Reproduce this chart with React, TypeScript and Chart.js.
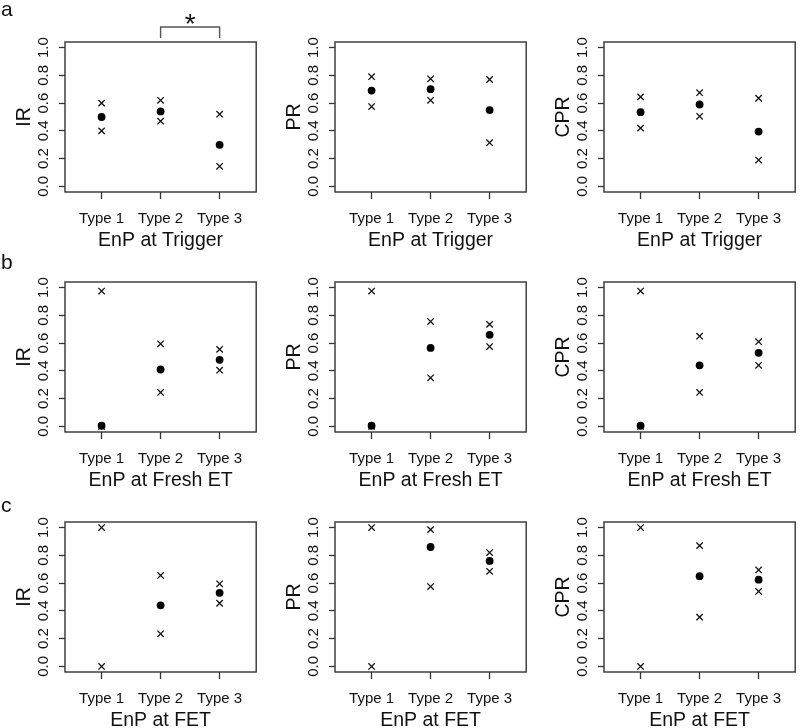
import React, { useEffect, useRef } from "react";
import { Chart, registerables } from "chart.js";

Chart.register(...registerables);

// ---------------- data ----------------
const categories = ["Type 1", "Type 2", "Type 3"];
const yTickValues = [0, 0.2, 0.4, 0.6, 0.8, 1.0];
const metrics = ["IR", "PR", "CPR"];
const timepoints = ["EnP at Trigger", "EnP at Fresh ET", "EnP at FET"];
const panelLetters = ["a", "b", "c"];

// EnP at Trigger
const triggerIRMean = [0.5, 0.54, 0.3];
const triggerIRLow = [0.4, 0.47, 0.145];
const triggerIRHigh = [0.6, 0.62, 0.52];
const triggerPRMean = [0.69, 0.7, 0.55];
const triggerPRLow = [0.575, 0.62, 0.315];
const triggerPRHigh = [0.79, 0.775, 0.77];
const triggerCPRMean = [0.535, 0.59, 0.395];
const triggerCPRLow = [0.42, 0.505, 0.19];
const triggerCPRHigh = [0.645, 0.675, 0.635];

// EnP at Fresh ET
const freshIRMean = [0.005, 0.41, 0.48];
const freshIRLow = [0, 0.245, 0.405];
const freshIRHigh = [0.975, 0.595, 0.555];
const freshPRMean = [0.005, 0.565, 0.66];
const freshPRLow = [0, 0.35, 0.575];
const freshPRHigh = [0.975, 0.755, 0.735];
const freshCPRMean = [0.005, 0.44, 0.53];
const freshCPRLow = [0, 0.245, 0.44];
const freshCPRHigh = [0.975, 0.65, 0.61];

// EnP at FET
const fetIRMean = [null, 0.44, 0.53];
const fetIRLow = [0, 0.235, 0.455];
const fetIRHigh = [1.0, 0.655, 0.595];
const fetPRMean = [null, 0.86, 0.76];
const fetPRLow = [0, 0.575, 0.685];
const fetPRHigh = [1.0, 0.985, 0.82];
const fetCPRMean = [null, 0.65, 0.625];
const fetCPRLow = [0, 0.355, 0.54];
const fetCPRHigh = [1.0, 0.87, 0.695];

// significance annotation: row, column, from category, to category, label
const significance = [{ row: 0, col: 0, from: "Type 2", to: "Type 3", label: "*" }];

const MEANS = [
  [triggerIRMean, triggerPRMean, triggerCPRMean],
  [freshIRMean, freshPRMean, freshCPRMean],
  [fetIRMean, fetPRMean, fetCPRMean],
];
const LOWS = [
  [triggerIRLow, triggerPRLow, triggerCPRLow],
  [freshIRLow, freshPRLow, freshCPRLow],
  [fetIRLow, fetPRLow, fetCPRLow],
];
const HIGHS = [
  [triggerIRHigh, triggerPRHigh, triggerCPRHigh],
  [freshIRHigh, freshPRHigh, freshCPRHigh],
  [fetIRHigh, fetPRHigh, fetCPRHigh],
];

// ---------------- layout / style ----------------
const FONT = '"Liberation Sans", Arial, Helvetica, sans-serif';
const TEXT = "#111";
const FRAME = "#333";
const COL_PLOT_LEFT = [65, 335, 604];
const ROW_TOP = [0, 240, 480];
const LETTER_BASELINE = [16, 29, 32];
const Y_AXIS_W = 65;
const PLOT_TOP = 42;
const PLOT_W = 195;
const PLOT_H = 150;
const CANVAS_W = 262;
const CANVAS_H = 252;
const X_AXIS_H = CANVAS_H - PLOT_TOP - PLOT_H;

Chart.defaults.font.family = FONT;
Chart.defaults.color = TEXT;

function Panel({ row, col }: { row: number; col: number }) {
  const ref = useRef<HTMLCanvasElement>(null);

  useEffect(() => {
    const canvas = ref.current;
    if (!canvas) return;
    const toPts = (arr: (number | null)[]) => arr.map((v, i) => ({ x: i + 1, y: v }));
    const sigs = significance.filter((s) => s.row === row && s.col === col);
    const letter = col === 0 ? panelLetters[row] : null;

    const framePlugin = {
      id: "frame",
      afterDraw(chart: any) {
        const { ctx, chartArea: a } = chart;
        ctx.save();
        ctx.strokeStyle = FRAME;
        ctx.lineWidth = 1.4;
        ctx.strokeRect(a.left, a.top, a.right - a.left, a.bottom - a.top);
        if (letter) {
          ctx.fillStyle = TEXT;
          ctx.font = `21px ${FONT}`;
          ctx.textAlign = "left";
          ctx.textBaseline = "alphabetic";
          ctx.fillText(letter, 1, LETTER_BASELINE[row]);
        }
        for (const s of sigs) {
          const xs = chart.scales.x;
          const x1 = xs.getPixelForValue(categories.indexOf(s.from) + 1);
          const x2 = xs.getPixelForValue(categories.indexOf(s.to) + 1);
          const yTop = a.top - 15;
          ctx.strokeStyle = "#555";
          ctx.lineWidth = 1.4;
          ctx.beginPath();
          ctx.moveTo(x1, a.top - 4);
          ctx.lineTo(x1, yTop);
          ctx.lineTo(x2, yTop);
          ctx.lineTo(x2, a.top - 4);
          ctx.stroke();
          ctx.fillStyle = TEXT;
          ctx.font = `28px ${FONT}`;
          ctx.textAlign = "center";
          ctx.textBaseline = "alphabetic";
          ctx.fillText(s.label, (x1 + x2) / 2, a.top - 9);
        }
        ctx.restore();
      },
    };

    const crossDs = (arr: (number | null)[]) => ({
      data: toPts(arr),
      pointStyle: "crossRot",
      pointRadius: 4.5,
      pointHoverRadius: 4.5,
      borderColor: "#111",
      backgroundColor: "transparent",
      borderWidth: 1.3,
      showLine: false,
    });

    const chart = new Chart(canvas, {
      type: "scatter",
      data: {
        datasets: [
          {
            data: toPts(MEANS[row][col]),
            pointStyle: "circle",
            pointRadius: 3.9,
            pointHoverRadius: 3.9,
            backgroundColor: "#000",
            borderColor: "#000",
            borderWidth: 0,
            showLine: false,
          },
          crossDs(HIGHS[row][col]),
          crossDs(LOWS[row][col]),
        ] as any,
      },
      options: {
        responsive: false,
        animation: false,
        devicePixelRatio: 1,
        events: [],
        clip: false as any,
        layout: {
          padding: { left: 0, top: PLOT_TOP, right: CANVAS_W - Y_AXIS_W - PLOT_W, bottom: 0 },
        },
        plugins: { legend: { display: false }, tooltip: { enabled: false } },
        scales: {
          x: {
            type: "linear",
            position: "bottom",
            min: 0.38,
            max: 3.62,
            afterBuildTicks: (s: any) => {
              s.ticks = categories.map((_, i) => ({ value: i + 1 }));
            },
            afterFit: (s: any) => {
              s.height = X_AXIS_H;
            },
            ticks: {
              callback: (v: any) => categories[Math.round(Number(v)) - 1] ?? "",
              autoSkip: false,
              maxRotation: 0,
              minRotation: 0,
              padding: 11,
              font: { size: 15, family: FONT },
              color: TEXT,
            },
            grid: {
              display: true,
              drawOnChartArea: false,
              drawTicks: true,
              tickLength: 7,
              tickWidth: 1.3,
              tickColor: FRAME,
            },
            border: { display: false },
            title: {
              display: true,
              text: timepoints[row],
              font: { size: 19.5, family: FONT },
              color: TEXT,
              padding: { top: 0, bottom: 0 },
            },
          },
          y: {
            type: "linear",
            position: "left",
            min: -0.04,
            max: 1.04,
            afterBuildTicks: (s: any) => {
              s.ticks = yTickValues.map((v) => ({ value: v }));
            },
            afterFit: (s: any) => {
              s.width = Y_AXIS_W;
            },
            ticks: {
              callback: (v: any) => Number(v).toFixed(1),
              autoSkip: false,
              minRotation: 90,
              maxRotation: 90,
              crossAlign: "center",
              padding: 4.6,
              font: { size: 15, family: FONT },
              color: TEXT,
            },
            grid: {
              display: true,
              drawOnChartArea: false,
              drawTicks: true,
              tickLength: 6,
              tickWidth: 1.3,
              tickColor: FRAME,
            },
            border: { display: false },
            title: {
              display: true,
              text: metrics[col],
              font: { size: 19.5, family: FONT },
              color: TEXT,
              padding: { top: 12.8, bottom: 0 },
            },
          },
        },
      } as any,
      plugins: [framePlugin],
    });
    return () => chart.destroy();
  }, [row, col]);

  return (
    <canvas
      ref={ref}
      width={CANVAS_W}
      height={CANVAS_H}
      style={{
        position: "absolute",
        left: COL_PLOT_LEFT[col] - Y_AXIS_W,
        top: ROW_TOP[row],
        width: CANVAS_W,
        height: CANVAS_H,
      }}
    />
  );
}

export default function App() {
  const panels: JSX.Element[] = [];
  for (let r = 0; r < 3; r++) {
    for (let c = 0; c < 3; c++) {
      panels.push(<Panel key={`${r}-${c}`} row={r} col={c} />);
    }
  }
  return (
    <div
      style={{
        position: "absolute",
        left: 0,
        top: 0,
        width: 800,
        height: 728,
        overflow: "hidden",
        background: "#fff",
      }}
    >
      {panels}
    </div>
  );
}
